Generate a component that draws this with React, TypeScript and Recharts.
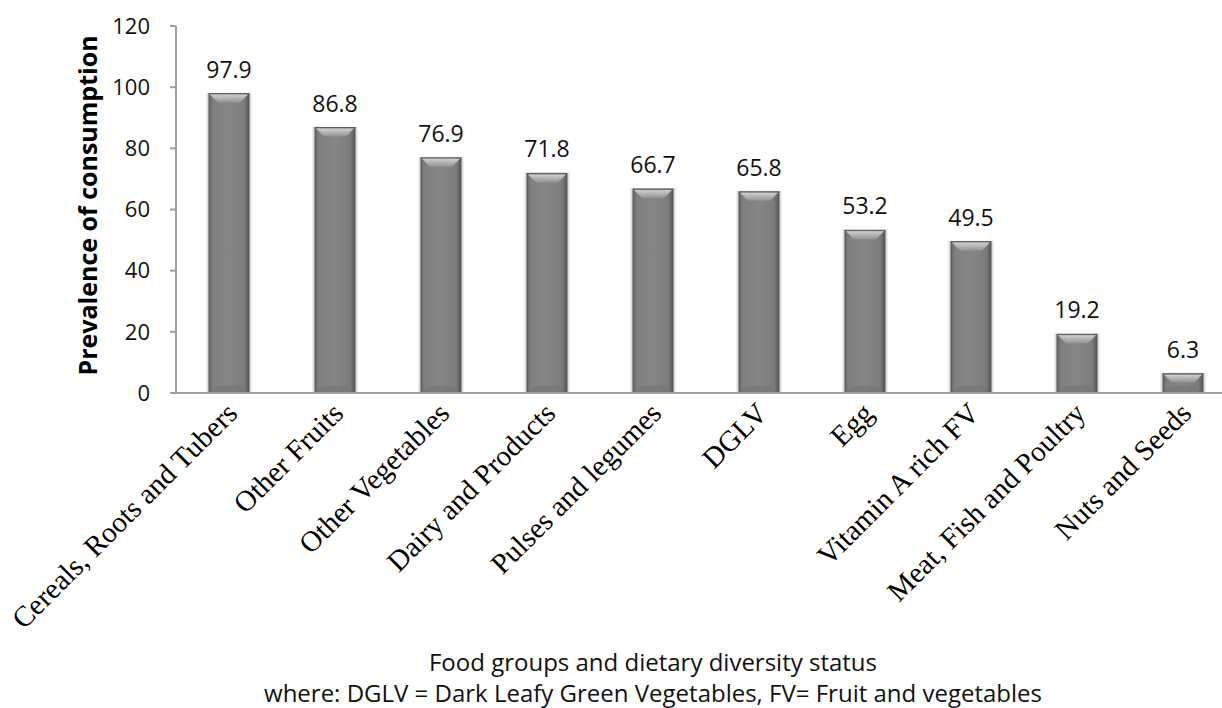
import React from "react";
import { BarChart, Bar, XAxis, YAxis, LabelList } from "recharts";

const categories = [
  "Cereals, Roots and Tubers",
  "Other Fruits",
  "Other Vegetables",
  "Dairy and Products",
  "Pulses and legumes",
  "DGLV",
  "Egg",
  "Vitamin A rich FV",
  "Meat, Fish and Poultry",
  "Nuts and Seeds",
];
const prevalence = [97.9, 86.8, 76.9, 71.8, 66.7, 65.8, 53.2, 49.5, 19.2, 6.3];
const yTicks = [0, 20, 40, 60, 80, 100, 120];
const xTitle = "Food groups and dietary diversity status";
const xNote = "where: DGLV = Dark Leafy Green Vegetables, FV= Fruit and vegetables";
const yTitle = "Prevalence of consumption";

const data = categories.map((c, i) => ({ name: c, value: prevalence[i] }));

const SANS = "'Open Sans', 'Noto Sans', sans-serif";
const SERIF = "'Liberation Serif', 'DejaVu Serif', serif";

const BevelBar = (props: any) => {
  const { x, y, width, height } = props;
  if (height <= 0) return null;
  const b = Math.min(8, height / 2.5);
  return (
    <g>
      <rect x={x - 3} y={y - 1} width={width + 6} height={height + 1} fill="#ececec" />
      <rect x={x - 1.5} y={y - 0.5} width={width + 3} height={height + 0.5} fill="#d4d4d4" />
      <rect x={x} y={y} width={width} height={height} fill="url(#barFace)" stroke="#5a5a5a" strokeWidth={1} />
      <polygon
        points={`${x + 1},${y + 1} ${x + width - 1},${y + 1} ${x + width - 1 - b},${y + 1 + b} ${x + 1 + b},${y + 1 + b}`}
        fill="url(#barTop)"
      />
      <polygon
        points={`${x + 1},${y + height - 1} ${x + width - 1},${y + height - 1} ${x + width - 1 - b},${y + height - 1 - b * 0.8} ${x + 1 + b},${y + height - 1 - b * 0.8}`}
        fill="#6f6f6f"
        opacity={0.45}
      />
    </g>
  );
};

const XTick = (props: any) => {
  const { x, y, payload } = props;
  return (
    <g transform={`translate(${x + 10},${y + 14})`}>
      <text
        x={0}
        y={0}
        textAnchor="end"
        transform="rotate(-45)"
        fontFamily={SERIF}
        fontSize={29}
        fill="#000"
      >
        {payload.value}
      </text>
    </g>
  );
};

export default function App() {
  return (
    <div
      style={{
        position: "absolute",
        left: 0,
        top: 0,
        width: 1222,
        height: 708,
        overflow: "hidden",
        background: "#fff",
      }}
    >
      <BarChart
        width={1240}
        height={708}
        data={data}
        margin={{ top: 26, right: 4, left: 0, bottom: 0 }}
        barSize={40}
      >
        <defs>
          <linearGradient id="barFace" x1="0" y1="0" x2="1" y2="0">
            <stop offset="0" stopColor="#666666" />
            <stop offset="0.1" stopColor="#808080" />
            <stop offset="0.5" stopColor="#868686" />
            <stop offset="0.88" stopColor="#7c7c7c" />
            <stop offset="1" stopColor="#555555" />
          </linearGradient>
          <linearGradient id="barTop" x1="0" y1="0" x2="0" y2="1">
            <stop offset="0" stopColor="#cfcfcf" />
            <stop offset="1" stopColor="#939393" />
          </linearGradient>
        </defs>
        <XAxis
          dataKey="name"
          interval={0}
          tickLine={false}
          axisLine={{ stroke: "#a0a0a0", strokeWidth: 2 }}
          height={315}
          tick={<XTick />}
        />
        <YAxis
          width={176}
          domain={[0, 120]}
          ticks={yTicks}
          interval={0}
          tickSize={6}
          tickMargin={20}
          axisLine={{ stroke: "#a0a0a0", strokeWidth: 2 }}
          tickLine={{ stroke: "#a0a0a0", strokeWidth: 2 }}
          tick={{ fontFamily: SANS, fontSize: 22, fill: "#111" }}
          label={{
            value: yTitle,
            angle: -90,
            position: "center",
            dx: 0,
            dy: -4,
            style: { fontFamily: SANS, fontSize: 25, fontWeight: 700, fill: "#000" },
          }}
        />
        <Bar dataKey="value" isAnimationActive={false} shape={<BevelBar />}>
          <LabelList
            dataKey="value"
            position="top"
            offset={16}
            style={{ fontFamily: SANS, fontSize: 23, fill: "#111" }}
          />
        </Bar>
      </BarChart>
      <div
        style={{
          position: "absolute",
          left: 0,
          width: 1306,
          top: 646,
          textAlign: "center",
          fontFamily: SANS,
          fontSize: 24,
          lineHeight: "31px",
          color: "#111",
          whiteSpace: "nowrap",
        }}
      >
        <div>{xTitle}</div>
        <div>{xNote}</div>
      </div>
    </div>
  );
}
